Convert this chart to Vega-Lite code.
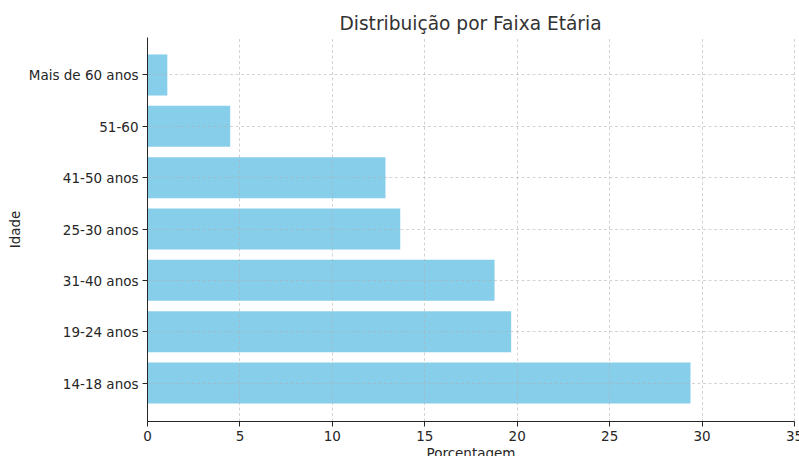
{
  "$schema": "https://vega.github.io/schema/vega-lite/v6.json",
  "autosize": "none",
  "width": 647,
  "height": 384,
  "padding": {"left": 147, "top": 37, "right": 5, "bottom": 35},
  "background": "white",
  "title": {
    "text": "Distribuição por Faixa Etária",
    "font": "DejaVu Sans",
    "fontSize": 18.6,
    "fontWeight": "normal",
    "color": "#333333",
    "anchor": "middle",
    "offset": 3
  },
  "data": {
    "values": [
      {"idade": "14-18 anos", "pct": 29.4},
      {"idade": "19-24 anos", "pct": 19.7},
      {"idade": "31-40 anos", "pct": 18.8},
      {"idade": "25-30 anos", "pct": 13.7},
      {"idade": "41-50 anos", "pct": 12.9},
      {"idade": "51-60", "pct": 4.5},
      {"idade": "Mais de 60 anos", "pct": 1.1}
    ]
  },
  "config": {
    "view": {"stroke": null},
    "axis": {
      "labelFont": "DejaVu Sans",
      "labelFontSize": 13.5,
      "labelColor": "#262626",
      "titleFont": "DejaVu Sans",
      "titleFontSize": 13.5,
      "titleFontWeight": "normal",
      "titleColor": "#262626",
      "domainColor": "#262626",
      "domainWidth": 1,
      "tickColor": "#262626",
      "tickSize": 5,
      "gridColor": "#b0b0b0",
      "gridOpacity": 0.7,
      "gridWidth": 0.8,
      "gridDash": [3, 2.5]
    }
  },
  "mark": {"type": "bar", "color": "#87CEEB"},
  "encoding": {
    "x": {
      "field": "pct",
      "type": "quantitative",
      "scale": {"domain": [0, 35], "nice": false, "zero": true},
      "axis": {
        "title": "Porcentagem",
        "values": [0, 5, 10, 15, 20, 25, 30, 35],
        "grid": true,
        "zindex": 1,
        "labelPadding": 3,
        "titlePadding": 4,
        "labelFlush": false
      }
    },
    "y": {
      "field": "idade",
      "type": "nominal",
      "sort": ["Mais de 60 anos", "51-60", "41-50 anos", "25-30 anos", "31-40 anos", "19-24 anos", "14-18 anos"],
      "scale": {"paddingInner": 0.2, "paddingOuter": 0.34},
      "axis": {
        "title": "Idade",
        "grid": true,
        "bandPosition": 0.5,
        "zindex": 1,
        "labelPadding": 4,
        "labelBaseline": "middle",
        "labelOffset": 1.5,
        "titlePadding": 6
      }
    }
  }
}
